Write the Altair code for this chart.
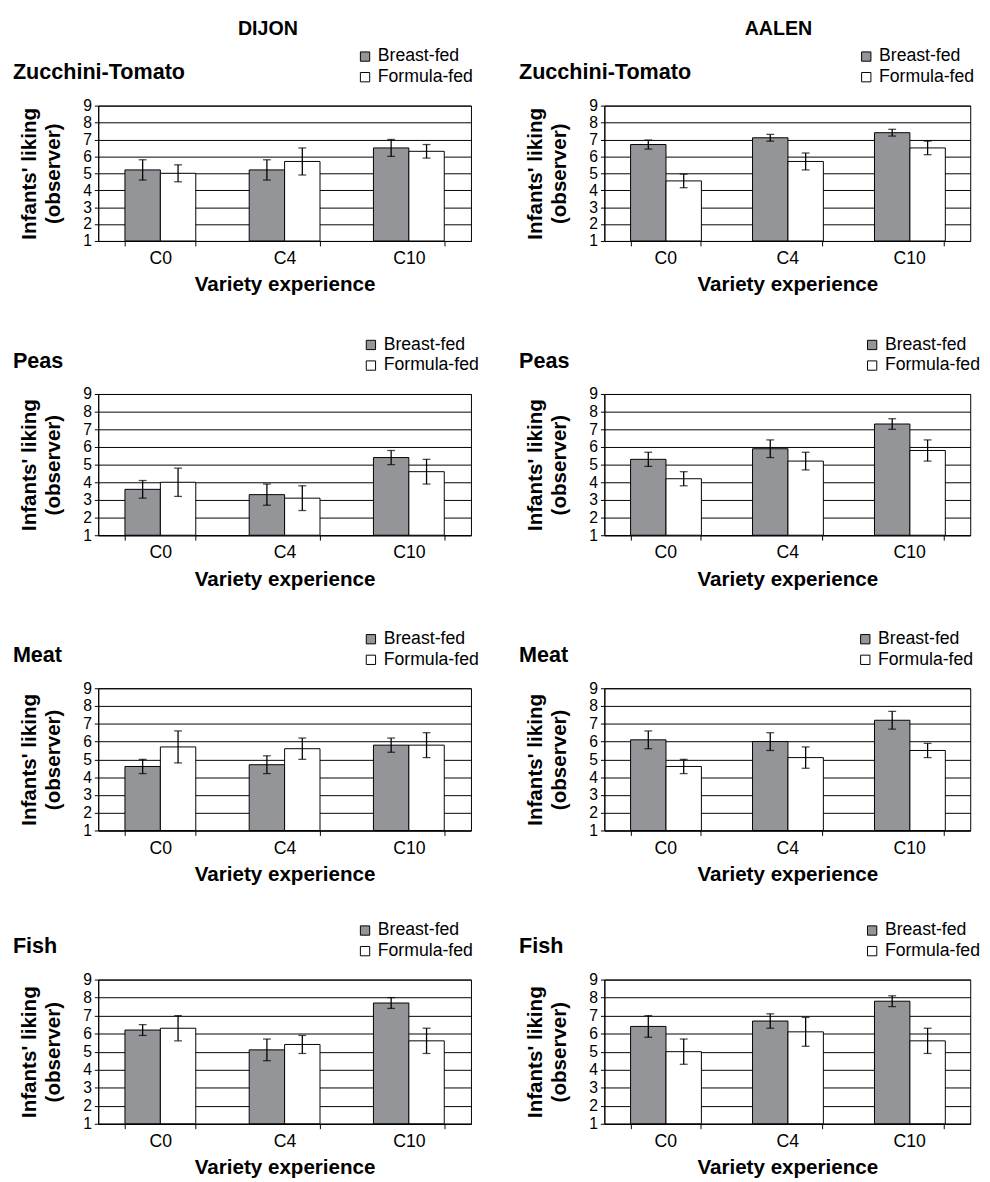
import altair as alt
import pandas as pd

groups = ["C0", "C4", "C10"]
feeding = ["Breast-fed", "Formula-fed"]
foods = ["Zucchini-Tomato", "Peas", "Meat", "Fish"]
cities = ["DIJON", "AALEN"]

# DIJON: mean and half-error per food, order C0, C4, C10
dijon_bf_mean = {"Zucchini-Tomato": [5.2, 5.2, 6.5], "Peas": [3.6, 3.3, 5.4],
                 "Meat": [4.6, 4.7, 5.8], "Fish": [6.2, 5.1, 7.7]}
dijon_bf_err = {"Zucchini-Tomato": [0.6, 0.6, 0.5], "Peas": [0.5, 0.6, 0.4],
                "Meat": [0.4, 0.5, 0.4], "Fish": [0.3, 0.6, 0.3]}
dijon_ff_mean = {"Zucchini-Tomato": [5.0, 5.7, 6.3], "Peas": [4.0, 3.1, 4.6],
                 "Meat": [5.7, 5.6, 5.8], "Fish": [6.3, 5.4, 5.6]}
dijon_ff_err = {"Zucchini-Tomato": [0.5, 0.8, 0.4], "Peas": [0.8, 0.7, 0.7],
                "Meat": [0.9, 0.6, 0.7], "Fish": [0.7, 0.5, 0.7]}

# AALEN
aalen_bf_mean = {"Zucchini-Tomato": [6.7, 7.1, 7.4], "Peas": [5.3, 5.9, 7.3],
                 "Meat": [6.1, 6.0, 7.2], "Fish": [6.4, 6.7, 7.8]}
aalen_bf_err = {"Zucchini-Tomato": [0.27, 0.2, 0.2], "Peas": [0.4, 0.5, 0.3],
                "Meat": [0.5, 0.5, 0.5], "Fish": [0.6, 0.4, 0.3]}
aalen_ff_mean = {"Zucchini-Tomato": [4.55, 5.7, 6.5], "Peas": [4.2, 5.2, 5.8],
                 "Meat": [4.6, 5.1, 5.5], "Fish": [5.0, 6.1, 5.6]}
aalen_ff_err = {"Zucchini-Tomato": [0.4, 0.5, 0.4], "Peas": [0.4, 0.5, 0.6],
                "Meat": [0.4, 0.6, 0.4], "Fish": [0.7, 0.8, 0.7]}

y_ticks = list(range(1, 10))

FONT = "Liberation Sans"
GRAY = "#939598"

row_heights = [138, 144, 145, 147]
col_widths = {"DIJON": 380, "AALEN": 373}
legend_x = {"DIJON": [263, 269, 269, 263], "AALEN": [258, 264, 257, 264]}
legend_y = -59
title_dx = {"DIJON": 22, "AALEN": 29}


def panel(city, food, k, bfm, bfe, ffm, ffe):
    rows = []
    for i, g in enumerate(groups):
        rows.append(dict(group=g, feeding="Breast-fed", mean=bfm[i],
                         lo=bfm[i] - bfe[i], hi=bfm[i] + bfe[i]))
        rows.append(dict(group=g, feeding="Formula-fed", mean=ffm[i],
                         lo=ffm[i] - ffe[i], hi=ffm[i] + ffe[i]))
    df = pd.DataFrame(rows)
    base = alt.Chart(df)
    x = alt.X("group:N", sort=groups,
              scale=alt.Scale(paddingInner=0.43, paddingOuter=0.215),
              axis=alt.Axis(title="Variety experience", labelAngle=0,
                            tickBand="extent", labelFontSize=18,
                            titleFontSize=21, titleFontWeight="bold",
                            tickSize=5, labelPadding=4, titlePadding=7,
                            domainColor="black", tickColor="black",
                            labelColor="black", titleColor="black"))
    xo = alt.XOffset("feeding:N", sort=feeding,
                     scale=alt.Scale(paddingInner=0, paddingOuter=0))
    yscale = alt.Scale(domain=[1, 9], nice=False, zero=False)
    yaxis = alt.Axis(values=y_ticks, title=["Infants' liking", "(observer)"],
                     grid=True, gridColor="black", gridOpacity=1,
                     labelOverlap=False, labelFontSize=16, labelFlush=False,
                     titleFontSize=21, titleFontWeight="bold",
                     titleLineHeight=24, tickSize=4, labelPadding=3,
                     titlePadding=20, domainColor="black", tickColor="black",
                     labelColor="black", titleColor="black")
    bars = base.mark_bar(stroke="black", strokeWidth=1).encode(
        x=x, xOffset=xo,
        y=alt.Y("mean:Q", scale=yscale, axis=yaxis),
        y2=alt.datum(1),
        color=alt.Color("feeding:N", sort=feeding,
                        scale=alt.Scale(domain=feeding, range=[GRAY, "white"]),
                        legend=alt.Legend(orient="none", title=None,
                                          legendX=legend_x[city][k], legendY=legend_y,
                                          direction="vertical",
                                          symbolType="square", symbolSize=90,
                                          symbolStrokeColor="black",
                                          symbolStrokeWidth=1,
                                          labelFontSize=18, labelColor="black",
                                          labelOffset=4, rowPadding=3)),
    )
    rules = base.mark_rule(color="black", strokeWidth=1.3).encode(
        x=x, xOffset=xo, y=alt.Y("lo:Q", scale=yscale, axis=yaxis), y2="hi:Q")
    cap_lo = base.mark_tick(color="black", size=8, thickness=1.3).encode(
        x=x, xOffset=xo, y=alt.Y("lo:Q", scale=yscale, axis=yaxis))
    cap_hi = base.mark_tick(color="black", size=8, thickness=1.3).encode(
        x=x, xOffset=xo, y=alt.Y("hi:Q", scale=yscale, axis=yaxis))
    label = alt.Chart(pd.DataFrame({"t": [food]})).mark_text(
        align="left", baseline="middle", fontWeight="bold", fontSize=22,
        color="black", font=FONT).encode(
        text="t:N", x=alt.value(-87), y=alt.value(-34))
    return alt.layer(bars, rules, cap_lo, cap_hi, label).properties(
        width=col_widths[city], height=row_heights[k])


def column(city, bfm, bfe, ffm, ffe):
    panels = [panel(city, f, k, bfm[f], bfe[f], ffm[f], ffe[f])
              for k, f in enumerate(foods)]
    upper = alt.vconcat(*panels[:3], spacing=40).resolve_scale(color="independent")
    return alt.vconcat(upper, panels[3], spacing=36, title=alt.TitleParams(
        city, anchor="middle", fontSize=20, fontWeight="bold", color="black",
        offset=8, dx=title_dx[city])).resolve_scale(color="independent")


chart = alt.hconcat(
    column("DIJON", dijon_bf_mean, dijon_bf_err, dijon_ff_mean, dijon_ff_err),
    column("AALEN", aalen_bf_mean, aalen_bf_err, aalen_ff_mean, aalen_ff_err),
    spacing=38,
).resolve_scale(color="independent").properties(
    padding={"left": 4, "top": 0, "right": 0, "bottom": 0}
).configure(font=FONT).configure_view(stroke="black", strokeWidth=1)

chart.save("out.html", embed_options={"renderer": "svg", "actions": False})
